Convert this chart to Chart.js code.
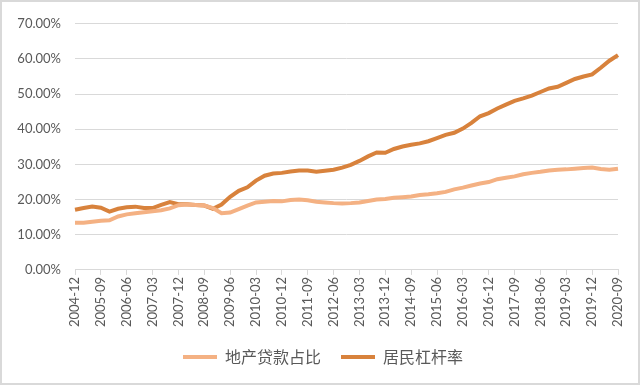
<!DOCTYPE html>
<html>
<head>
<meta charset="utf-8">
<script src="https://cdn.jsdelivr.net/npm/chart.js@4/dist/chart.umd.min.js"></script>
<style>
  html, body { margin: 0; padding: 0; background: #fff; }
  .wrap {
    width: 640px; height: 385px; box-sizing: border-box;
    border: 2px solid #d9d9d9; position: relative;
  }
  canvas { display: block; }
</style>
</head>
<body>
<div class="wrap">
  <canvas id="chart" width="636" height="381"></canvas>
</div>
<script>
// Quarters 2004-12 .. 2020-09
const quarters = [];
for (let y = 2004; y <= 2020; y++) {
  for (const m of ["03", "06", "09", "12"]) {
    const q = y + "-" + m;
    if (q >= "2004-12" && q <= "2020-09") quarters.push(q);
  }
}

// 地产贷款占比 (%)
const loanShare = [
  13.4, 13.4, 13.7, 14.0, 14.1, 15.2, 15.8, 16.1, 16.4, 16.7,
  17.0, 17.5, 18.4, 18.6, 18.5, 18.3, 17.6, 16.1, 16.3, 17.3,
  18.3, 19.2, 19.4, 19.6, 19.5, 19.9, 20.0, 19.8, 19.4, 19.2,
  19.0, 18.9, 19.0, 19.2, 19.6, 20.0, 20.2, 20.5, 20.7, 20.9,
  21.3, 21.5, 21.8, 22.2, 22.9, 23.4, 24.0, 24.6, 25.0, 25.8,
  26.2, 26.6, 27.2, 27.6, 27.9, 28.3, 28.5, 28.6, 28.8, 29.0,
  29.1, 28.7, 28.5, 28.8
];

// 居民杠杆率 (%)
const leverage = [
  17.1, 17.6, 18.0, 17.7, 16.6, 17.4, 17.8, 18.0, 17.6, 17.6,
  18.5, 19.3, 18.7, 18.7, 18.5, 18.3, 17.4, 18.6, 20.8, 22.5,
  23.5, 25.4, 26.8, 27.4, 27.6, 28.0, 28.3, 28.3, 27.9, 28.2,
  28.5, 29.1, 29.9, 31.0, 32.3, 33.4, 33.3, 34.4, 35.1, 35.6,
  36.0, 36.6, 37.5, 38.4, 39.0, 40.2, 41.8, 43.7, 44.6, 45.9,
  47.0, 48.1, 48.8, 49.6, 50.6, 51.6, 52.1, 53.2, 54.3, 55.0,
  55.6, 57.5, 59.5, 61.1
];

const yTicks = [0, 10, 20, 30, 40, 50, 60, 70];

const lightColor = "#F4B183";
const darkColor = "#D8823C";
const textColor = "#595959";
const gridColor = "#D9D9D9";

// legend in the reference sits a bit right of the canvas centre
const shiftLegend = {
  id: "shiftLegend",
  afterLayout(chart) {
    if (chart.legend) {
      chart.legend.left += 13;
      chart.legend.right += 13;
    }
  },
};

const ctx = document.getElementById("chart").getContext("2d");

new Chart(ctx, {
  type: "line",
  data: {
    labels: quarters,
    datasets: [
      {
        label: "地产贷款占比",
        data: loanShare,
        borderColor: lightColor,
        backgroundColor: lightColor,
        borderWidth: 4,
        pointRadius: 0,
        tension: 0,
      },
      {
        label: "居民杠杆率",
        data: leverage,
        borderColor: darkColor,
        backgroundColor: darkColor,
        borderWidth: 4,
        pointRadius: 0,
        tension: 0,
      },
    ],
  },
  options: {
    responsive: false,
    animation: false,
    layout: {
      padding: { left: 0, right: 20, top: 17, bottom: 8 },
    },
    plugins: {
      tooltip: { enabled: false },
      legend: {
        position: "bottom",
        labels: {
          color: textColor,
          font: { family: "'Noto Sans CJK SC', sans-serif", size: 16 },
          boxWidth: 34,
          boxHeight: 4,
          padding: 20,
          generateLabels: function (chart) {
            return chart.data.datasets.map((ds, i) => ({
              text: ds.label,
              fillStyle: ds.borderColor,
              strokeStyle: ds.borderColor,
              lineWidth: 0,
              fontColor: textColor,
              hidden: false,
              datasetIndex: i,
            }));
          },
        },
      },
    },
    scales: {
      x: {
        type: "category",
        offset: false,
        grid: {
          display: true,
          drawOnChartArea: false,
          drawTicks: true,
          tickLength: 5,
          color: gridColor,
        },
        border: { display: true, color: gridColor },
        ticks: {
          autoSkip: false,
          maxRotation: 90,
          minRotation: 90,
          padding: 2,
          color: textColor,
          font: { family: "Lato, sans-serif", size: 13 },
          callback: function (value, index) {
            return index % 3 === 0 ? quarters[index] : null;
          },
        },
      },
      y: {
        min: 0,
        max: 70,
        afterFit: function (scale) {
          scale.width = 73;
        },
        afterBuildTicks: function (scale) {
          scale.ticks = yTicks.map((v) => ({ value: v }));
        },
        grid: {
          color: gridColor,
          drawTicks: false,
        },
        border: { display: false },
        ticks: {
          padding: 14,
          color: textColor,
          font: { family: "Lato, sans-serif", size: 13 },
          callback: function (value) {
            return value.toFixed(2) + "%";
          },
        },
      },
    },
  },
  plugins: [shiftLegend],
});
</script>
</body>
</html>
